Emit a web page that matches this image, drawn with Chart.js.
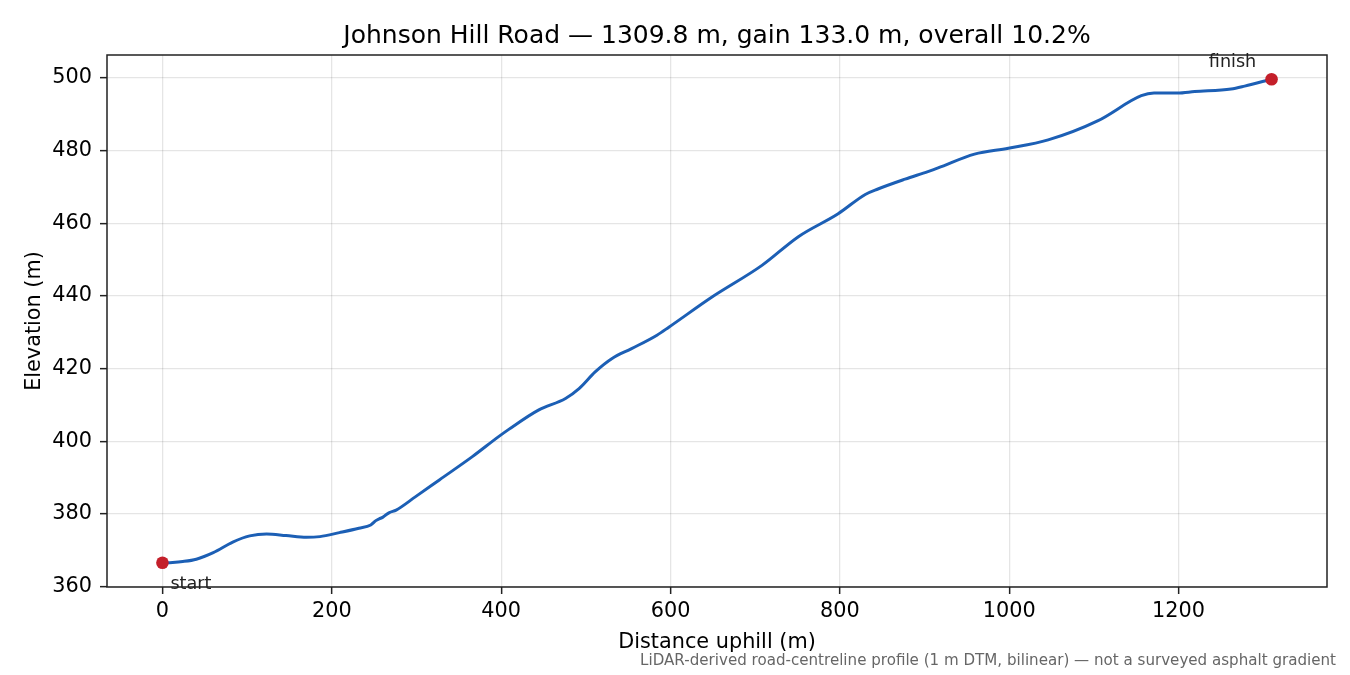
<!DOCTYPE html>
<html><head><meta charset="utf-8">
<script src="https://cdn.jsdelivr.net/npm/chart.js@4.4.0/dist/chart.umd.min.js"></script>
<style>html,body{margin:0;padding:0;background:#fff}#wrap{width:1350px;height:675px}</style>
</head><body><div id="wrap"><canvas id="c" width="1350" height="675"></canvas></div>
<script>
const distance = [0, 12, 24, 40, 60, 83, 103, 123, 146, 170, 186, 209, 232, 246, 252, 256, 260, 264, 268, 276, 299, 327, 366, 397, 409, 444, 476, 492, 511, 531, 554, 584, 598, 649, 708, 751, 798, 830, 845, 877, 904, 916, 959, 999, 1046, 1105, 1156, 1171, 1199, 1219, 1262, 1278, 1309.8];
const elevation = [366.6, 366.7, 366.95, 367.6, 369.4, 372.3, 374.0, 374.55, 374.1, 373.6, 373.8, 374.9, 376.1, 377.0, 378.2, 378.7, 379.1, 379.8, 380.4, 381.1, 384.8, 389.4, 395.8, 401.3, 403.3, 408.6, 411.8, 414.5, 419.1, 422.8, 425.5, 429.2, 431.4, 439.7, 448.4, 456.3, 462.6, 467.9, 469.4, 472.1, 474.2, 475.2, 479.0, 480.6, 482.9, 488.2, 495.05, 495.8, 495.8, 496.2, 496.9, 497.7, 499.6];
const endpointDistance = [0, 1309.8];
const endpointElevation = [366.6, 499.6];
const endpointLabels = ['start', 'finish'];
const xTicks = [0, 200, 400, 600, 800, 1000, 1200];
const yTicks = [360, 380, 400, 420, 440, 460, 480, 500];
const titleText = 'Johnson Hill Road — 1309.8 m, gain 133.0 m, overall 10.2%';
const xLabel = 'Distance uphill (m)';
const yLabel = 'Elevation (m)';
const footnote = 'LiDAR-derived road-centreline profile (1 m DTM, bilinear) — not a surveyed asphalt gradient';

const FONT = '"DejaVu Sans", "Liberation Sans", sans-serif';
const xSpan = distance[distance.length-1] - distance[0];
const ySpan = Math.max(...elevation) - Math.min(...elevation);
const xMin = distance[0] - 0.05*xSpan, xMax = distance[distance.length-1] + 0.05*xSpan;
const yMin = Math.min(...elevation) - 0.05*ySpan, yMax = Math.max(...elevation) + 0.05*ySpan;

const textPlugin = {
  id: 'texts',
  afterDraw(chart) {
    const ctx = chart.ctx, a = chart.chartArea;
    const xs = chart.scales.x, ys = chart.scales.y;
    ctx.save();
    ctx.fillStyle = '#000';
    ctx.font = '25px ' + FONT;
    ctx.textAlign = 'center'; ctx.textBaseline = 'alphabetic';
    ctx.fillText(titleText, (a.left + a.right)/2, 43);
    ctx.font = '20.8px ' + FONT;
    ctx.fillText(xLabel, (a.left + a.right)/2, 648);
    ctx.save();
    ctx.translate(40, (a.top + a.bottom)/2);
    ctx.rotate(-Math.PI/2);
    ctx.fillText(yLabel, 0, 0);
    ctx.restore();
    ctx.fillStyle = '#666';
    ctx.font = '15.1px ' + FONT;
    ctx.textAlign = 'right';
    ctx.fillText(footnote, 1336, 665);
    // annotations
    ctx.fillStyle = '#222';
    ctx.font = '17.6px ' + FONT;
    const px0 = xs.getPixelForValue(endpointDistance[0]), py0 = ys.getPixelForValue(endpointElevation[0]);
    ctx.textAlign = 'left';
    ctx.fillText(endpointLabels[0], px0 + 8, py0 + 26);
    const px1 = xs.getPixelForValue(endpointDistance[1]), py1 = ys.getPixelForValue(endpointElevation[1]);
    ctx.textAlign = 'center';
    ctx.fillText(endpointLabels[1], px1 - 39, py1 - 12.5);
    // frame
    ctx.strokeStyle = '#222';
    ctx.lineWidth = 1.5;
    ctx.strokeRect(a.left, a.top, a.right - a.left, a.bottom - a.top);
    ctx.restore();
  }
};

new Chart(document.getElementById('c'), {
  type: 'line',
  data: {
    datasets: [
      {
        data: distance.map((d, i) => ({x: d, y: elevation[i]})),
        borderColor: '#1c5fb5', borderWidth: 3, pointRadius: 0,
        cubicInterpolationMode: 'monotone', fill: false, order: 2
      },
      {
        data: endpointDistance.map((d, i) => ({x: d, y: endpointElevation[i]})),
        showLine: false, pointRadius: 6.3, pointBackgroundColor: '#c41f2a',
        pointBorderWidth: 0, borderColor: '#c41f2a', order: 1
      }
    ]
  },
  options: {
    responsive: false, animation: false, devicePixelRatio: 1,
    layout: { padding: { left: 0, top: 55, right: 23, bottom: 0 } },
    plugins: { legend: { display: false }, tooltip: { enabled: false }, title: { display: false } },
    scales: {
      x: {
        type: 'linear', min: xMin, max: xMax,
        afterBuildTicks: s => { s.ticks = xTicks.map(v => ({value: v})); },
        afterFit: s => { s.height = 88; },
        ticks: { font: { family: FONT, size: 20.8 }, color: '#000', padding: 5, maxRotation: 0, autoSkip: false, callback: v => String(v) },
        grid: { color: 'rgba(0,0,0,0.1)', lineWidth: 1.3, tickLength: 7, tickColor: '#222', tickWidth: 1.5 },
        border: { display: false }
      },
      y: {
        type: 'linear', min: yMin, max: yMax,
        afterBuildTicks: s => { s.ticks = yTicks.map(v => ({value: v})); },
        afterFit: s => { s.width = 107; },
        ticks: { font: { family: FONT, size: 20.8 }, color: '#000', padding: 8, autoSkip: false, callback: v => String(v) },
        grid: { color: 'rgba(0,0,0,0.1)', lineWidth: 1.3, tickLength: 7, tickColor: '#222', tickWidth: 1.5 },
        border: { display: false }
      }
    }
  },
  plugins: [textPlugin]
});
</script></body></html>
